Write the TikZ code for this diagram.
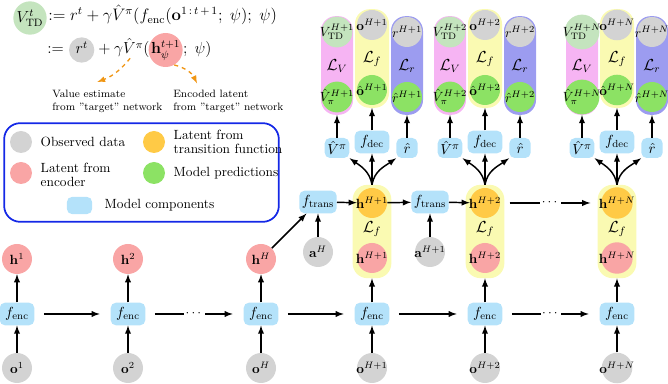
\documentclass[tikz,border=0pt]{standalone}
\usepackage{amsmath}
\usetikzlibrary{arrows,shapes,positioning,calc}

\definecolor{obsgray}{RGB}{211,211,211}
\definecolor{encpink}{RGB}{249,165,165}
\definecolor{trorange}{RGB}{255,202,70}
\definecolor{predgreen}{RGB}{140,226,100}
\definecolor{tdgreen}{RGB}{196,228,190}
\definecolor{compblue}{RGB}{180,226,250}
\definecolor{pillpink}{RGB}{246,180,243}
\definecolor{pillyellow}{RGB}{250,250,178}
\definecolor{pillblue}{RGB}{156,156,240}
\definecolor{legendblue}{RGB}{20,40,230}
\definecolor{tgtorange}{RGB}{240,150,20}

\tikzset{
  obs/.style={circle, fill=obsgray, minimum size=22.5pt, inner sep=-2pt},
  enclat/.style={obs, fill=encpink},
  trlat/.style={obs, fill=trorange},
  pred/.style={obs, fill=predgreen},
  tdval/.style={obs, fill=tdgreen},
  comp/.style={rounded corners=4pt, fill=compblue, inner xsep=2pt, inner ysep=1pt,
    minimum width=26pt, minimum height=17pt, font=\fontsize{11}{13}\selectfont},
  compsm/.style={comp, minimum width=16pt, minimum height=15pt},
  pill/.style={rounded corners=11pt, minimum width=24pt, minimum height=74pt},
  lossname/.style={font=\large, inner sep=0pt},
  arr/.style={-latex, line width=1.1pt},
  hgap/.style={shorten <=7pt, shorten >=8pt},
  dots/.style={fill=white, inner sep=1pt},
  tgt/.style={-latex, dashed, line width=1pt, tgtorange},
  eq/.style={font=\large, inner sep=0pt, text height=9pt, text depth=3pt},
  legtext/.style={anchor=west, align=left}
}

\begin{document}
\begin{tikzpicture}[x=0.75pt, y=-0.75pt]
  \useasboundingbox (0,0) rectangle (668,384);

  % TD target
  \node[tdval, minimum size=25pt, font=\large] (vtd) at (30,18) {$V^{t}_{\text{TD}}$};
  \node[eq, anchor=west] (eqa) at (48,17)
    {\scalebox{1.04}{$:= r^{t} + \gamma\hat{V}^{\pi}(f_{\text{enc}}(\mathbf{o}^{1\,:\,t\,+\,1};\;\psi);\;\psi)$}};
  \node[eq, anchor=west] (asg) at (47,50) {$:=$};
  \node[eq, obs, minimum size=19pt, right=3.5pt of asg] (rt) {$r^{t}$};
  \node[eq, right=0pt of rt] (vh) {${}+\gamma\hat{V}^{\pi}($};
  \node[eq, enclat, minimum size=25.5pt, right=-1pt of vh] (hpsi) {$\mathbf{h}^{t+1}_{\psi}$};
  \node[eq, right=0pt of hpsi] (tail) {$;\;\psi)$};
  \node[font=\footnotesize, align=left, anchor=north west, inner sep=0pt] (valtxt) at (52,90)
    {Value estimate\\from "target" network};
  \node[font=\footnotesize, align=left, anchor=north west, inner sep=0pt] (enctxt) at (173,90)
    {Encoded latent\\from "target" network};
  \draw[tgt] ([xshift=6pt]vh.south) to[bend left=15] ([xshift=34pt,yshift=6pt]valtxt.north west);
  \draw[tgt] (hpsi.-60) to[bend left=25] ([xshift=18pt,yshift=5pt]enctxt.north west);

  % legend
  \node[draw=legendblue, line width=1.3pt, rounded corners=12pt, minimum width=206pt,
    minimum height=74pt] (legend) at (141.5,172.5) {};
  \node[obs, minimum size=16.5pt] (kobs) at (21,142) {};
  \node[legtext] (tobs) at (36,142) {Observed data};
  \node[trlat, minimum size=16.5pt] (ktr) at (154,142) {};
  \node[legtext] (ttr) at (169,142) {Latent from\\[-2pt]transition function};
  \node[enclat, minimum size=16.5pt] (kenc) at (21,173) {};
  \node[legtext] (tenc) at (36,175) {Latent from\\[-2pt]encoder};
  \node[pred, minimum size=16.5pt] (kpred) at (154,173) {};
  \node[legtext] (tpred) at (169,173) {Model predictions};
  \node[comp, minimum width=19pt, minimum height=13pt] (kcomp) at (79.5,205.5) {};
  \node[legtext] (tcomp) at (100,205) {Model components};

  % observed steps
  \foreach \cx/\s/\n in {17/1/a, 128/2/b, 261/H/c} {
    \node[enclat] (he\n) at (\cx,259) {$\mathbf{h}^{\s}$};
    \node[comp] (enc\n) at (\cx,314) {$f_{\text{enc}}$};
    \node[obs] (o\n) at (\cx,368) {$\mathbf{o}^{\s}$};
    \draw[arr] (o\n) -- (enc\n);
    \draw[arr] (enc\n) -- (he\n);
  }

  % imagined steps
  \foreach \cx/\s/\n in {372/H+1/d, 485/H+2/e, 617/H+N/f} {
    \node[pill, fill=pillpink] (lv\n) at (\cx-35,65.5) {};
    \node[pill, fill=pillyellow, minimum width=25.5pt] (lo\n) at (\cx,58.5) {};
    \node[pill, fill=pillblue] (lr\n) at (\cx+35,65.5) {};
    \node[pill, fill=pillyellow, minimum width=29pt, minimum height=70pt] (lh\n) at (\cx,231.5) {};
    \node[tdval] (vt\n) at (\cx-35,32) {$V^{\s}_{\text{TD}}$};
    \node[obs] (ot\n) at (\cx,25) {$\mathbf{o}^{\s}$};
    \node[obs] (rt\n) at (\cx+35,32) {$r^{\s}$};
    \node[lossname] (lvn\n) at (\cx-35,66) {$\mathcal{L}_V$};
    \node[lossname] (lon\n) at (\cx,59) {$\mathcal{L}_f$};
    \node[lossname] (lrn\n) at (\cx+35,66) {$\mathcal{L}_r$};
    \node[pred] (vp\n) at (\cx-35,97) {$\hat{V}^{\s}_{\pi}$};
    \node[pred] (op\n) at (\cx,90) {$\hat{\mathbf{o}}^{\s}$};
    \node[pred] (rp\n) at (\cx+35,97) {$\hat{r}^{\s}$};
    \node[compsm] (cv\n) at (\cx-35,148) {$\hat{V}^{\pi}$};
    \node[comp] (cd\n) at (\cx,142) {$f_{\text{dec}}$};
    \node[compsm] (cr\n) at (\cx+35,148) {$\hat{r}$};
    \node[trlat] (ht\n) at (\cx,203) {$\mathbf{h}^{\s}$};
    \node[lossname] (lf\n) at (\cx,229) {$\mathcal{L}_f$};
    \node[enclat] (he\n) at (\cx,258) {$\mathbf{h}^{\s}$};
    \node[comp] (enc\n) at (\cx,314) {$f_{\text{enc}}$};
    \node[obs] (o\n) at (\cx,368) {$\mathbf{o}^{\s}$};
    \draw[arr] (o\n) -- (enc\n);
    \draw[arr] (enc\n) -- (lh\n.south);
    \draw[arr] (cv\n) -- (lv\n.south);
    \draw[arr] (cd\n) -- (lo\n.south);
    \draw[arr] (cr\n) -- (lr\n.south);
    \draw[arr] (lh\n.north) to[out=100,in=-35] (cv\n.south east);
    \draw[arr] (lh\n.north) -- (cd\n.south);
    \draw[arr] (lh\n.north) to[out=80,in=-145] (cr\n.south west);
  }

  % transition
  \node[comp] (tra) at (318,202) {$f_{\text{trans}}$};
  \node[obs] (aa) at (318,252) {$\mathbf{a}^{H}$};
  \node[comp] (trb) at (430,202) {$f_{\text{trans}}$};
  \node[obs] (ab) at (430,252) {$\mathbf{a}^{H+1}$};
  \draw[arr] (hec) -- (tra);
  \draw[arr] (aa) -- (tra);
  \draw[arr] (ab) -- (trb);
  \draw[arr] (tra) -- (htd);
  \draw[arr] (htd) -- (trb);
  \draw[arr] (trb) -- (hte);
  \draw[arr, hgap] (hte) -- node[dots] (dtop) {$\cdots$} (htf);

  % encoder chain
  \draw[arr, hgap] (enca) -- (encb);
  \draw[arr, hgap] (encb) -- node[dots] (dbl) {$\cdots$} (encc);
  \draw[arr, hgap] (encc) -- (encd);
  \draw[arr, hgap] (encd) -- (ence);
  \draw[arr, hgap] (ence) -- node[dots] (dbr) {$\cdots$} (encf);
\end{tikzpicture}
\end{document}
